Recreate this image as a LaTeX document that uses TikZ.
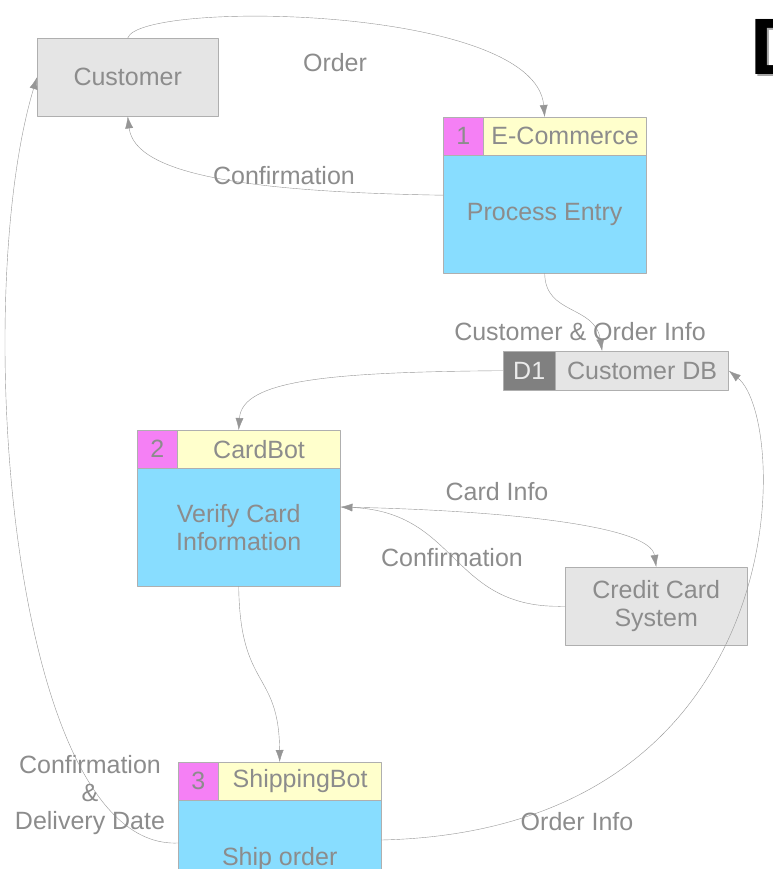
\documentclass[tikz,border=0pt]{standalone}
\usepackage{fontspec}
\setmainfont{Liberation Sans}
\usetikzlibrary{arrows.meta}
\definecolor{dfdtext}{RGB}{140,140,140}
\definecolor{dfdline}{RGB}{150,150,150}
\definecolor{dfdedge}{RGB}{175,175,175}
\definecolor{entgray}{RGB}{229,229,229}
\definecolor{procblue}{RGB}{136,221,255}
\definecolor{headyellow}{RGB}{255,255,204}
\definecolor{numpink}{RGB}{245,128,245}
\definecolor{storegray}{RGB}{128,128,128}
\begin{document}
\begin{tikzpicture}[x=1pt,y=-1pt,line join=round,line cap=round,
	every node/.style={font=\fontsize{25}{28}\selectfont,text=dfdtext,inner sep=0pt,align=center},
	entity/.style={draw=dfdedge,fill=entgray,anchor=north west},
	cell/.style={draw=dfdedge,anchor=north west},
	flow/.style={draw=dfdline,-{Latex[length=12pt,width=8pt]}}]
	\useasboundingbox (0,0) rectangle (772,869);
	% external entities
	\node[entity,minimum width=181pt,minimum height=78pt] (cust) at (37,38) {Customer};
	\node[entity,minimum width=182pt,minimum height=78pt] (ccs) at (565,567) {Credit Card\\System};
	% processes: number / header / body
	\foreach \n/\x/\y/\h/\b in {1/443/117/E-Commerce/Process Entry,2/137/430/CardBot/{Verify Card\\Information},3/178/762/ShippingBot/Ship order}{
		\node[cell,fill=procblue,minimum width=203pt,minimum height=156pt] (p\n) at (\x,\y) {};
		\node[cell,fill=numpink,minimum width=40pt,minimum height=38pt] (n\n) at (\x,\y) {\n};
		\node[cell,fill=headyellow,minimum width=163pt,minimum height=38pt] (h\n) at (n\n.north east) {\h};
		\node at ([yshift=-59pt]p\n.south |- h\n.south) {\b};
	}
	% data store
	\node[cell,fill=storegray,minimum width=52pt,minimum height=39pt,text=white!92!black] (d1) at (503,351) {D1};
	\node[cell,fill=entgray,minimum width=173pt,minimum height=39pt] (db) at (d1.north east) {Customer DB};
	% big letter at the edge
	\node[anchor=base west,font=\fontsize{80}{80}\selectfont\bfseries,text=black!35] at (752,77) {D};
	\node[anchor=base west,font=\fontsize{80}{80}\selectfont\bfseries,text=black] at (750,75) {D};
	% flows
	\draw[flow] (cust.north) .. controls (140,0) and (535,5) .. (h1.north -| p1.north);
	\draw[flow] (p1.west) .. controls (250,192) and (135,175) .. (cust.south);
	\draw[flow] (p1.south) .. controls (545,315) and (595,305) .. ([xshift=-40pt]db.north);
	\draw[flow] (d1.west) .. controls (330,372) and (242,380) .. (p2.north);
	\draw[flow] (p2.east |- 0,507) .. controls (500,510) and (650,525) .. (ccs.north);
	\draw[flow] (ccs.west) .. controls (450,610) and (460,512) .. (p2.east |- 0,507);
	\draw[flow] (p2.south) .. controls (240,690) and (279,670) .. (p3.north);
	\draw[flow] (p3.west |- 0,843) .. controls (10,850) and (-30,300) .. (cust.west);
	\draw[flow] (p3.east |- 0,840) .. controls (800,830) and (790,420) .. (db.east);
	% flow labels
	\node at (335,63) {Order};
	\node at (284,176) {Confirmation};
	\node at (580,332) {Customer \& Order Info};
	\node at (497,492) {Card Info};
	\node at (452,558) {Confirmation};
	\node at (90,795) {Confirmation\\\&\\Delivery Date};
	\node at (577,822) {Order Info};
\end{tikzpicture}
\end{document}
